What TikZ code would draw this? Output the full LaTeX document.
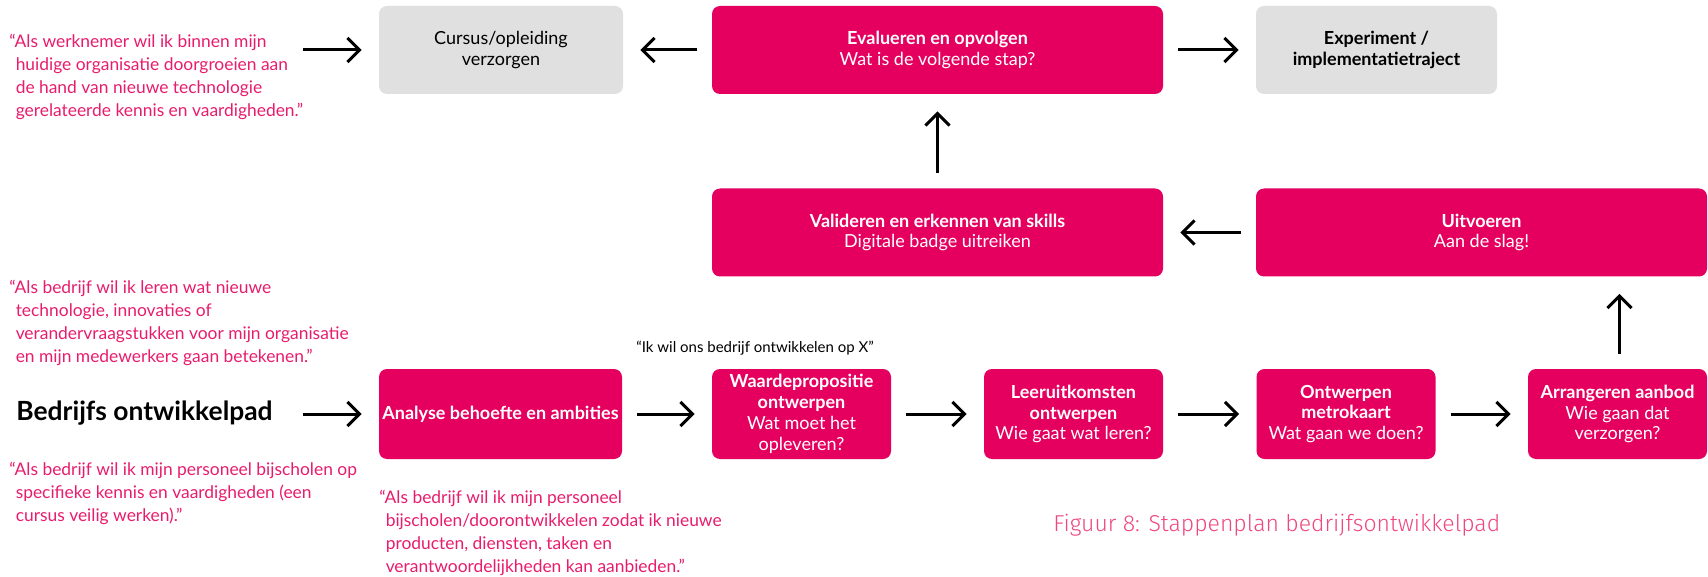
\documentclass[tikz,border=0pt]{standalone}
\usepackage{fontspec}
\setmainfont{Lato}
\newfontfamily\capfont{Fira Sans}[UprightFont=* Light]
\usetikzlibrary{arrows.meta}
\definecolor{brandpink}{RGB}{229,0,96}
\definecolor{quotepink}{RGB}{232,28,108}
\definecolor{captionpink}{RGB}{238,72,126}
\definecolor{boxgrey}{RGB}{224,224,224}

\begin{document}
\begin{tikzpicture}[x=0.5pt,y=-0.5pt,
  stepbox/.style={rounded corners=4pt, inner sep=0pt, align=center,
    minimum height=44pt, font=\fontsize{9}{10.4}\selectfont},
  pinkbox/.style={stepbox, fill=brandpink, text=white},
  greybox/.style={stepbox, fill=boxgrey, text=black},
  quote/.style={anchor=base west, inner sep=0pt, align=left, text=quotepink,
    font=\fontsize{8.7}{11.5}\selectfont},
  link/.style={line width=1.5pt, -{Straight Barb[length=6pt,width=12pt]},
    shorten <=7.5pt, shorten >=8.5pt},
]
\useasboundingbox (0,0) rectangle (1708,577);

% top row
\node[greybox, minimum width=122pt] (cursus) at (501,50)
  {Cursus/opleiding\\verzorgen};
\node[pinkbox, minimum width=225.5pt] (eval) at (937.5,50)
  {\bfseries Evalueren en opvolgen\\Wat is de volgende stap?};
\node[greybox, minimum width=120.5pt] (exper) at (1376.5,50)
  {\bfseries Experiment /\\\bfseries implementatietraject};

% middle row
\node[pinkbox, minimum width=225.5pt] (valid) at (937.5,232.5)
  {\bfseries Valideren en erkennen van skills\\Digitale badge uitreiken};
\node[pinkbox, minimum width=225.5pt] (uitv) at (1481.5,232.5)
  {\bfseries Uitvoeren\\Aan de slag!};

% bottom row
\node[pinkbox, minimum width=121.5pt, minimum height=45pt] (analyse) at (500.5,414)
  {\bfseries Analyse behoefte en ambities};
\node[pinkbox, minimum width=89.5pt, minimum height=45pt] (waarde) at (801.5,414)
  {\bfseries Waardepropositie\\\bfseries ontwerpen\\Wat moet het\\opleveren?};
\node[pinkbox, minimum width=89.5pt, minimum height=45pt] (leer) at (1073.5,414)
  {\bfseries Leeruitkomsten\\\bfseries ontwerpen\\Wie gaat wat leren?};
\node[pinkbox, minimum width=89.5pt, minimum height=45pt] (ontw) at (1346,414)
  {\bfseries Ontwerpen\\\bfseries metrokaart\\Wat gaan we doen?};
\node[pinkbox, minimum width=89.5pt, minimum height=45pt] (arrange) at (1617.5,414)
  {\bfseries Arrangeren aanbod\\Wie gaan dat\\verzorgen?};

% texts (base = baseline of the last line)
\node[quote] (q1) at (9,117)
  {“Als werknemer wil ik binnen mijn\\
   \hphantom{“}huidige organisatie doorgroeien aan\\
   \hphantom{“}de hand van nieuwe technologie\\
   \hphantom{“}gerelateerde kennis en vaardigheden.”};
\node[quote] (q2) at (9,362)
  {“Als bedrijf wil ik leren wat nieuwe\\
   \hphantom{“}technologie, innovaties of\\
   \hphantom{“}verandervraagstukken voor mijn organisatie\\
   \hphantom{“}en mijn medewerkers gaan betekenen.”};
\node[quote] (q3) at (9,521)
  {“Als bedrijf wil ik mijn personeel bijscholen op\\
   \hphantom{“}specifieke kennis en vaardigheden (een\\
   \hphantom{“}cursus veilig werken).”};
\node[quote] (q4) at (379,572)
  {“Als bedrijf wil ik mijn personeel\\
   \hphantom{“}bijscholen/doorontwikkelen zodat ik nieuwe\\
   \hphantom{“}producten, diensten, taken en\\
   \hphantom{“}verantwoordelijkheden kan aanbieden.”};
\node[anchor=base west, inner sep=0pt, font=\fontsize{13.2}{15}\selectfont\bfseries]
  (pad) at (16,420) {Bedrijfs ontwikkelpad};
\node[anchor=base west, inner sep=0pt, font=\fontsize{7.5}{9}\selectfont]
  (wish) at (636,352) {“Ik wil ons bedrijf ontwikkelen op X”};
\node[anchor=base west, inner sep=0pt, text=captionpink, font=\capfont\fontsize{11.5}{13}\selectfont]
  (caption) at (1053,531) {Figuur 8: Stappenplan bedrijfsontwikkelpad};

% arrow start points next to the free texts
\coordinate (q1end) at (303,50);
\coordinate (padend) at (303,414);

% connectors
\draw[link, shorten <=0pt] (q1end) -- (cursus);
\draw[link] (eval) -- (cursus);
\draw[link] (eval) -- (exper);
\draw[link] (valid) -- (eval);
\draw[link] (uitv) -- (valid);
\draw[link] ([xshift=1pt]arrange.north) -- ([xshift=1pt]arrange.north |- uitv.south);
\draw[link, shorten <=0pt] (padend) -- (analyse);
\draw[link] (analyse) -- (waarde);
\draw[link] (waarde) -- (leer);
\draw[link] (leer) -- (ontw);
\draw[link] (ontw) -- (arrange);
\end{tikzpicture}
\end{document}
